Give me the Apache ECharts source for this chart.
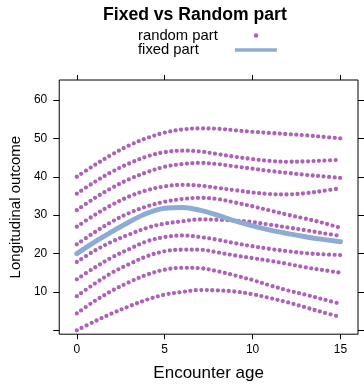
<!DOCTYPE html>
<html>
<head>
<meta charset="utf-8">
<script src="https://cdn.jsdelivr.net/npm/echarts@6/dist/echarts.min.js"></script>
<style>
  html, body { margin: 0; padding: 0; background: #fff; }
  #main { width: 364px; height: 387px; }
</style>
</head>
<body>
<div id="main"></div>
<script>
// encounter age grid
var ages = [0, 1, 2, 3, 4, 5, 6, 7, 8, 9, 10, 11, 12, 13, 14, 15];

// random part, one curve per subject (top to bottom)
var subj1  = [40.0, 43.0, 45.8, 48.2, 50.1, 51.5, 52.3, 52.6, 52.5, 52.1, 51.7, 51.4, 51.1, 50.8, 50.4, 50.0];
var subj2  = [35.6, 38.6, 41.3, 43.5, 45.3, 46.4, 46.8, 46.6, 45.9, 45.2, 44.6, 44.1, 43.9, 44.0, 44.2, 44.4];
var subj3  = [31.3, 34.4, 37.1, 39.4, 41.2, 42.6, 43.3, 43.6, 43.3, 42.7, 42.1, 41.5, 41.0, 40.5, 40.1, 39.7];
var subj4  = [27.0, 30.0, 32.7, 34.9, 36.5, 37.5, 37.9, 37.7, 37.1, 36.5, 35.9, 35.5, 35.4, 35.7, 36.3, 37.0];
var subj5  = [22.4, 25.5, 28.3, 30.6, 32.3, 33.5, 34.2, 34.5, 34.2, 33.3, 32.3, 31.2, 30.1, 29.1, 28.0, 26.7];
var subj6  = [17.8, 20.7, 23.1, 25.0, 26.7, 27.8, 28.4, 28.9, 28.8, 28.6, 28.2, 27.5, 26.8, 26.1, 25.3, 24.6];
var subj7  = [13.3, 16.3, 19.0, 21.2, 23.2, 24.3, 24.7, 24.3, 23.6, 22.7, 21.9, 21.2, 20.6, 20.1, 19.8, 19.6];
var subj8  = [8.9, 12.1, 15.0, 17.3, 19.3, 20.6, 21.0, 21.0, 20.3, 19.5, 18.8, 18.1, 17.3, 16.4, 15.7, 15.0];
var subj9  = [4.4, 7.6, 10.3, 12.6, 14.5, 15.8, 16.3, 16.2, 15.4, 14.3, 13.1, 11.7, 10.4, 9.3, 8.1, 6.9];
var subj10 = [0.0, 2.3, 4.4, 6.3, 8.0, 9.3, 10.0, 10.5, 10.4, 10.1, 9.4, 8.4, 7.3, 6.0, 4.7, 3.5];

// fixed part
var fixedPart = [20.0, 23.0, 25.7, 28.3, 30.5, 31.8, 32.0, 31.3, 30.0, 28.5, 27.2, 26.1, 25.2, 24.4, 23.7, 23.1];

var xTicks = [0, 5, 10, 15];
var yTicks = [0, 10, 20, 30, 40, 50, 60];
var yLabels = [10, 20, 30, 40, 50, 60];

var PURPLE = '#ad62b8';
var BLUE = '#8eabd4';
var FONT = 'Liberation Sans, Arial, sans-serif';

function pairs(ys) {
    return ages.map(function (a, i) { return [a, ys[i]]; });
}

var randomCurves = [subj1, subj2, subj3, subj4, subj5, subj6, subj7, subj8, subj9, subj10];

var series = randomCurves.map(function (ys) {
    return {
        name: 'random part',
        type: 'line',
        data: pairs(ys),
        smooth: 0.35,
        showSymbol: false,
        symbol: 'none',
        itemStyle: { color: PURPLE },
        lineStyle: { color: PURPLE, width: 4.3, type: [0, 5.5], cap: 'round' },
        z: 2
    };
});
series.push({
    name: 'fixed part',
    type: 'line',
    data: pairs(fixedPart),
    smooth: 0.35,
    showSymbol: false,
    symbol: 'none',
    itemStyle: { color: BLUE },
    lineStyle: { color: BLUE, width: 5, cap: 'round' },
    z: 3
});

var myChart = echarts.init(document.getElementById('main'));

// lattice style: box round the panel, ticks on all four sides, labels only left/bottom
var option = {
    animation: false,
    textStyle: { fontFamily: FONT },
    title: {
        text: 'Fixed vs Random part',
        left: 103,
        top: 6,
        padding: 0,
        textStyle: { fontFamily: FONT, fontSize: 17.6, fontWeight: 'bold', color: '#000' }
    },
    legend: [
        {
            left: 138, top: 28, padding: 0,
            align: 'right',
            selectedMode: false,
            itemWidth: 4.5, itemHeight: 4.5,
            data: [{ name: 'random part', icon: 'circle', itemStyle: { color: PURPLE } }],
            textStyle: { fontFamily: FONT, fontSize: 14.8, color: '#000', padding: [0, 31, 0, 0] }
        },
        {
            left: 138, top: 42.6, padding: 0,
            align: 'right',
            selectedMode: false,
            itemWidth: 42, itemHeight: 3.5,
            data: [{ name: 'fixed part', icon: 'rect', itemStyle: { color: BLUE } }],
            textStyle: { fontFamily: FONT, fontSize: 14.8, color: '#000', padding: [0, 31, 0, 0] }
        }
    ],
    grid: {
        left: 57, right: 6, top: 80, bottom: 50,
        show: true, borderColor: '#000', borderWidth: 1
    },
    xAxis: [
        {
            type: 'value', min: -1, max: 16,
            position: 'bottom',
            name: 'Encounter age', nameLocation: 'middle', nameGap: 30.8,
            nameTextStyle: { fontFamily: FONT, fontSize: 17, color: '#000' },
            axisLine: { show: false, onZero: false },
            splitLine: { show: false },
            axisTick: { show: true, length: 5, customValues: xTicks, lineStyle: { color: '#000' } },
            axisLabel: { customValues: xTicks, margin: 9.5, fontSize: 12, color: '#000' }
        },
        {
            type: 'value', min: -1, max: 16,
            position: 'top',
            axisLine: { show: false, onZero: false },
            splitLine: { show: false },
            axisTick: { show: true, length: 5, customValues: xTicks, lineStyle: { color: '#000' } },
            axisLabel: { show: false }
        }
    ],
    yAxis: [
        {
            type: 'value', min: -1, max: 65.2,
            position: 'left',
            name: 'Longitudinal outcome', nameLocation: 'middle', nameGap: 32.5,
            nameTextStyle: { fontFamily: FONT, fontSize: 15, color: '#000' },
            axisLine: { show: false, onZero: false },
            splitLine: { show: false },
            axisTick: { show: true, length: 6, customValues: yTicks, lineStyle: { color: '#000' } },
            axisLabel: { customValues: yLabels, margin: 12, fontSize: 12, color: '#000' }
        },
        {
            type: 'value', min: -1, max: 65.2,
            position: 'right',
            axisLine: { show: false, onZero: false },
            splitLine: { show: false },
            axisTick: { show: true, length: 6, customValues: yTicks, lineStyle: { color: '#000' } },
            axisLabel: { show: false }
        }
    ],
    series: series
};

myChart.setOption(option);
</script>
</body>
</html>
